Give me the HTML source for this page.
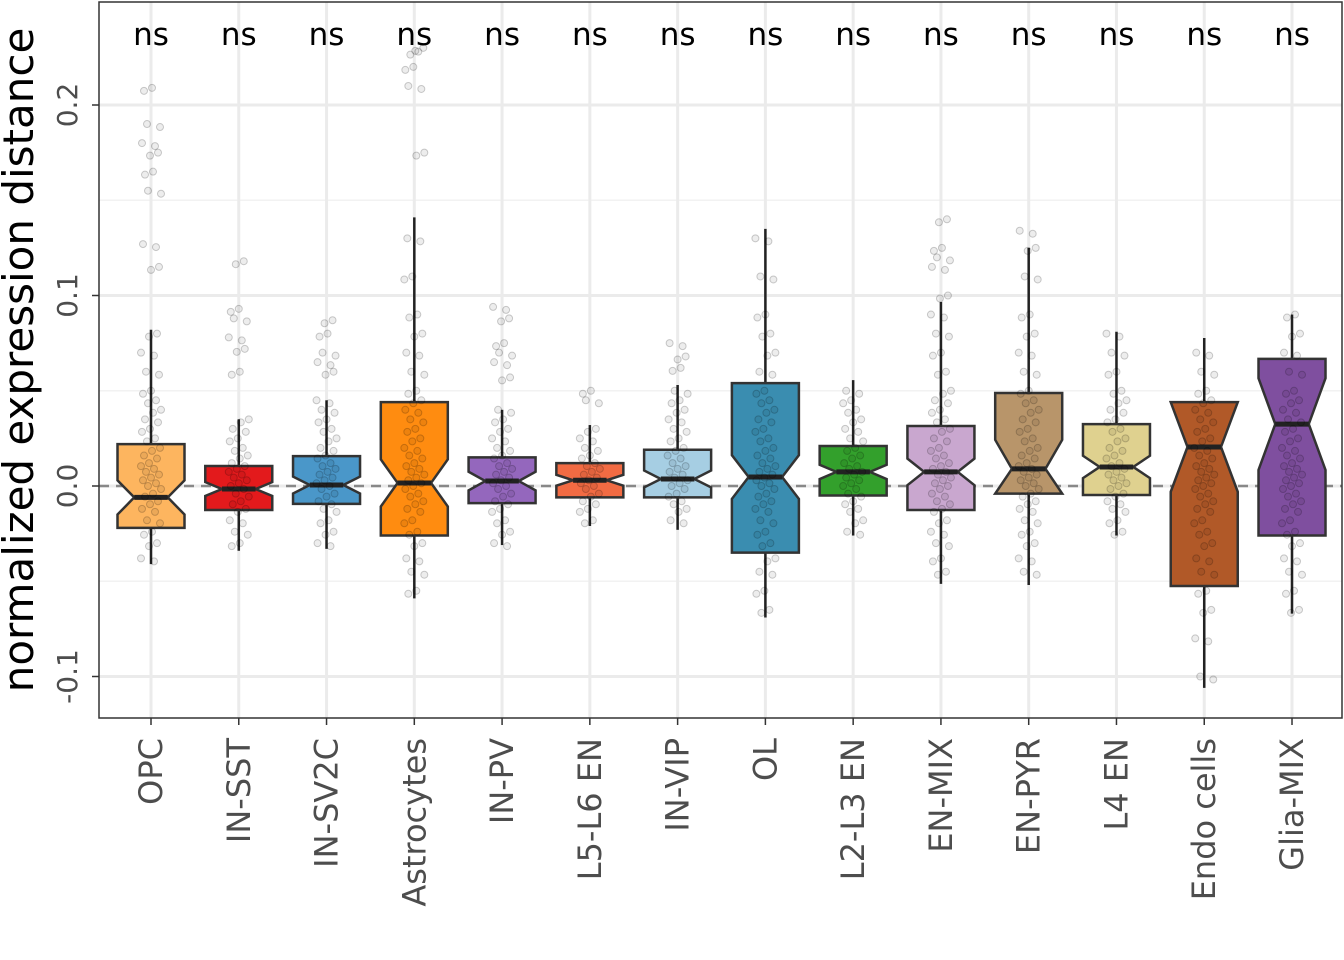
<!DOCTYPE html>
<html><head><meta charset="utf-8"><style>
html,body{margin:0;padding:0;background:#fff;}
svg{display:block;font-family:"DejaVu Sans","Liberation Sans",sans-serif;}
</style></head><body>
<svg id="chart" width="1344" height="960" viewBox="0 0 1344 960">
<g id="grid"></g>
<g id="marks"></g>
<rect x="99" y="2" width="1243" height="716" fill="none" stroke="#333" stroke-width="1.5"/>
<g id="axes"></g>
<text transform="translate(33,360) rotate(-90)" text-anchor="middle" font-size="42" fill="#000">normalized expression distance</text>
</svg>
<script>
const categories = ["OPC","IN-SST","IN-SV2C","Astrocytes","IN-PV","L5-L6 EN","IN-VIP","OL","L2-L3 EN","EN-MIX","EN-PYR","L4 EN","Endo cells","Glia-MIX"];
const colors = ["#FDB55F","#E31A1C","#4A97C9","#FF8C10","#9467BD","#F26B43","#A6CEE3","#3A8DB0","#33A02C","#C9A7CF","#B8956A","#DFD18F","#B15928","#7F4F9F"];
const q1Vals = [-0.022,-0.0126,-0.0094,-0.026,-0.009,-0.006,-0.006,-0.035,-0.005,-0.0126,-0.004,-0.0047,-0.0525,-0.026];
const q3Vals = [0.022,0.0105,0.0157,0.044,0.015,0.012,0.019,0.054,0.021,0.0315,0.0488,0.0325,0.044,0.0667];
const medVals = [-0.006,-0.0016,0.0005,0.0016,0.0026,0.003,0.0037,0.0047,0.0074,0.0074,0.009,0.01,0.0205,0.0325];
const whiskLo = [-0.041,-0.034,-0.033,-0.059,-0.031,-0.021,-0.023,-0.069,-0.026,-0.0514,-0.052,-0.026,-0.106,-0.067];
const whiskHi = [0.082,0.035,0.045,0.141,0.04,0.032,0.053,0.135,0.0556,0.0966,0.125,0.081,0.0777,0.09];
const nObs = [60,100,80,80,60,100,80,150,120,100,30,100,42,37];
const outliers = [[0.209,0.19,0.18,0.175,0.165,0.155,0.127,0.115],[0.118,0.093,0.088,0.078,0.072,0.06],[0.087,0.08,0.07,0.065,0.06],[0.23,0.228,0.22,0.21,0.175],[0.094,0.088,0.075,0.07,0.065,0.057],[0.05,0.045],[0.075,0.068,0.062],[],[],[0.14,0.125,0.12,0.115,0.1],[0.134,0.125],[],[],[]];
const ySlots = [-0.1,-0.08,-0.065,-0.055,-0.045,-0.038,-0.03,-0.024,-0.018,-0.012,-0.008,-0.004,0,0.003,0.006,0.009,0.012,0.016,0.02,0.025,0.03,0.035,0.04,0.045,0.05,0.06,0.07,0.08,0.09,0.11,0.13];
const yTicks = [-0.1,0,0.1,0.2];
const yTickLabels = ["-0.1","0.0","0.1","0.2"];
const yMinor = [-0.05,0.05,0.15];
const sigLabels = categories.map(()=> "ns");

const NS="http://www.w3.org/2000/svg";
const X0=151, DX=87.77, Y0=486, PXU=1905;
const xs = i => X0 + i*DX;
const ys = v => Y0 - v*PXU;
function mk(tag, attrs, parent){const e=document.createElementNS(NS,tag);for(const k in attrs)e.setAttribute(k,attrs[k]);parent.appendChild(e);return e;}
const grid=document.getElementById('grid'), marks=document.getElementById('marks'), axes=document.getElementById('axes');

yMinor.forEach(v=>{const l=mk('line',{x1:99,x2:1342,y1:ys(v),y2:ys(v),stroke:'#f2f2f2','stroke-width':1.5},grid);

});
yTicks.forEach((v,i)=>{const l=mk('line',{x1:99,x2:1342,y1:ys(v),y2:ys(v),stroke:'#ebebeb','stroke-width':3},grid);


const t=mk('line',{x1:92,x2:99,y1:ys(v),y2:ys(v),stroke:'#333','stroke-width':1.5},axes);


const tx=mk('text',{transform:`translate(77,${ys(v)}) rotate(-90)`,'text-anchor':'middle','font-size':28,fill:'#4d4d4d'},axes);
tx.textContent=yTickLabels[i];

});
categories.forEach((c,i)=>{const l=mk('line',{x1:xs(i),x2:xs(i),y1:2,y2:718,stroke:'#ebebeb','stroke-width':3},grid);

});
const z=mk('line',{x1:99,x2:1342,y1:ys(0),y2:ys(0),stroke:'#888','stroke-width':2.5,'stroke-dasharray':'10,7'},grid);



const HW=33.5;
categories.forEach((c,i)=>{
  const x=xs(i);
  const g=mk('g',{},marks);
  
  
  mk('line',{x1:x,x2:x,y1:ys(whiskHi[i]),y2:ys(q3Vals[i]),stroke:'#222','stroke-width':2.5},g);
  mk('line',{x1:x,x2:x,y1:ys(q1Vals[i]),y2:ys(whiskLo[i]),stroke:'#222','stroke-width':2.5},g);
  const iqr=q3Vals[i]-q1Vals[i];
  const nh=1.58*iqr/Math.sqrt(nObs[i]);
  const t=ys(q3Vals[i]), bo=ys(q1Vals[i]);
  const nu=Math.max(t,ys(medVals[i]+nh)), nl=Math.min(bo,ys(medVals[i]-nh)), m=ys(medVals[i]);
  const a=x-HW,b=x+HW,ai=x-HW/2,bi=x+HW/2;
  const pts=[[a,t],[b,t],[b,nu],[bi,m],[b,nl],[b,bo],[a,bo],[a,nl],[ai,m],[a,nu]].map(p=>p.join(',')).join(' ');
  mk('polygon',{points:pts,fill:colors[i],stroke:'#333','stroke-width':2.5,'stroke-linejoin':'miter'},g);
  mk('line',{x1:ai,x2:bi,y1:m,y2:m,stroke:'#222','stroke-width':5},g);
  const vals=ySlots.filter(v=>v>=whiskLo[i]&&v<=whiskHi[i]).concat(outliers[i]);
  vals.forEach((v,k)=>{
    [0,1].forEach(r=>{
      const off=((k*37+i*11+r*13)%21)-10;
      const p=mk('circle',{cx:x+off,cy:ys(v)+r*3,r:3.5,fill:'rgba(0,0,0,0.07)',stroke:'rgba(0,0,0,0.2)','stroke-width':1},g);
      
      
    });
  });
  const s=mk('text',{x:x,y:45,'text-anchor':'middle','font-size':31,fill:'#000'},marks);
  s.textContent=sigLabels[i];
  
  
  const tk=mk('line',{x1:x,x2:x,y1:718,y2:725,stroke:'#333','stroke-width':1.5},axes);
  
  
  const lb=mk('text',{transform:`translate(${x+11},738) rotate(-90)`,'text-anchor':'end','font-size':32,fill:'#4d4d4d'},axes);
  lb.textContent=c;
  
  
});
</script>
</body></html>
